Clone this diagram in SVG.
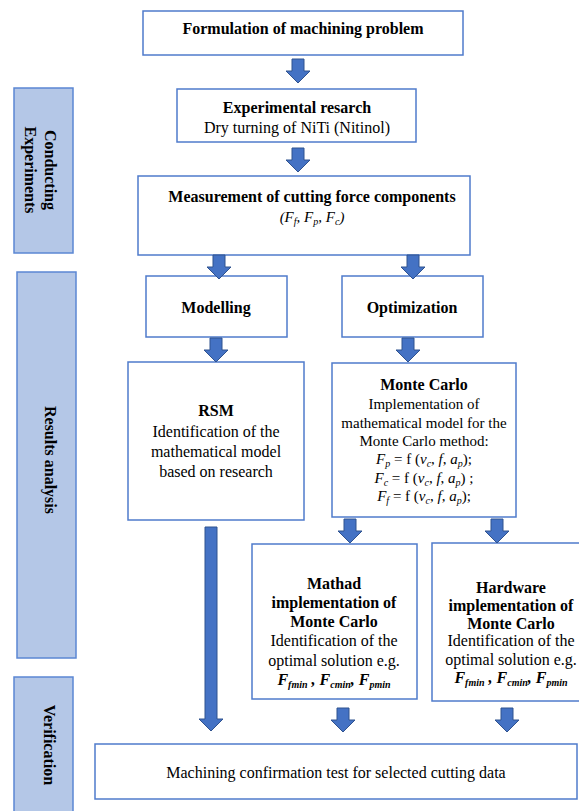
<svg xmlns="http://www.w3.org/2000/svg" width="579" height="811" viewBox="0 0 579 811">
<style>
.box{fill:#fff;stroke:#4F7BCB;stroke-width:1.5}
.side{fill:#B4C7E7;stroke:#5B87D3;stroke-width:1.5}
.arr{fill:#4472C4;stroke:#2F528F;stroke-width:1}
text{font-family:"Liberation Serif","Times New Roman",serif;font-size:16px;fill:#000;text-anchor:middle}
.b{font-weight:bold}
.i{font-style:italic}
.s{font-size:15px}
.sub{font-size:10px}
</style>
<defs>
<path id="a" d="M-6,0 H6 V12 H12 L0,24 L-12,12 H-6 Z"/>
</defs>
<g id="side-conducting">
<rect class="side" x="14" y="88" width="59" height="165"/>
<text class="b" transform="translate(45,170) rotate(90)">Conducting</text>
<text class="b" transform="translate(25,170) rotate(90)">Experiments</text>
</g>
<g id="side-results">
<rect class="side" x="17" y="272" width="59" height="386"/>
<text class="b" transform="translate(45,460) rotate(90)">Results  analysis</text>
</g>
<g id="side-verification">
<rect class="side" x="14" y="677" width="59" height="140"/>
<text class="b" transform="translate(44,745) rotate(90)">Verification</text>
</g>
<g id="n-formulation">
<rect class="box" x="143" y="11" width="320" height="44"/>
<text class="b" x="303" y="34">Formulation of machining problem</text>
</g>
<g id="n-experimental">
<rect class="box" x="177" y="89" width="239" height="53"/>
<text class="b" x="297" y="113">Experimental resarch</text>
<text x="297" y="133">Dry turning of NiTi (Nitinol)</text>
</g>
<g id="n-measurement">
<rect class="box" x="138" y="176" width="332" height="79"/>
<text class="b" x="312" y="202">Measurement of cutting force components</text>
<text class="i s" x="312" y="222">(F<tspan class="sub" dy="3">f</tspan><tspan dy="-3">, F</tspan><tspan class="sub" dy="3">p</tspan><tspan dy="-3">, F</tspan><tspan class="sub" dy="3">c</tspan><tspan dy="-3">)</tspan></text>
</g>
<g id="n-modelling">
<rect class="box" x="146" y="276" width="141" height="61"/>
<text class="b" x="216" y="313">Modelling</text>
</g>
<g id="n-optimization">
<rect class="box" x="342" y="276" width="141" height="61"/>
<text class="b" x="412" y="313">Optimization</text>
</g>
<g id="n-rsm">
<rect class="box" x="128" y="362" width="176" height="158"/>
<text class="b" x="216" y="416">RSM</text>
<text x="216" y="437">Identification of the</text>
<text x="216" y="457">mathematical model</text>
<text x="216" y="477">based on research</text>
</g>
<g id="n-montecarlo">
<rect class="box" x="332" y="363" width="184" height="154"/>
<text class="b" x="424" y="390">Monte Carlo</text>
<text class="s" x="424" y="409">Implementation of</text>
<text class="s" x="424" y="428">mathematical model for the</text>
<text class="s" x="424" y="446">Monte Carlo method:</text>
<text class="s" x="424" y="464"><tspan class="i">F</tspan><tspan class="i sub" dy="3">p</tspan><tspan dy="-3"> = f (</tspan><tspan class="i">v</tspan><tspan class="i sub" dy="3">c</tspan><tspan dy="-3">, </tspan><tspan class="i">f</tspan>, <tspan class="i">a</tspan><tspan class="i sub" dy="3">p</tspan><tspan dy="-3">);</tspan></text>
<text class="s" x="424" y="483"><tspan class="i">F</tspan><tspan class="i sub" dy="3">c</tspan><tspan dy="-3"> = f (</tspan><tspan class="i">v</tspan><tspan class="i sub" dy="3">c</tspan><tspan dy="-3">, </tspan><tspan class="i">f</tspan>, <tspan class="i">a</tspan><tspan class="i sub" dy="3">p</tspan><tspan dy="-3">) ;</tspan></text>
<text class="s" x="424" y="501"><tspan class="i">F</tspan><tspan class="i sub" dy="3">f</tspan><tspan dy="-3"> = f (</tspan><tspan class="i">v</tspan><tspan class="i sub" dy="3">c</tspan><tspan dy="-3">, </tspan><tspan class="i">f</tspan>, <tspan class="i">a</tspan><tspan class="i sub" dy="3">p</tspan><tspan dy="-3">);</tspan></text>
</g>
<g id="n-mathad">
<rect class="box" x="252" y="544" width="165" height="155"/>
<text class="b" x="334" y="589">Mathad</text>
<text class="b" x="334" y="608">implementation of</text>
<text class="b" x="334" y="627">Monte Carlo</text>
<text x="334" y="646">Identification of the</text>
<text x="334" y="666">optimal solution e.g.</text>
<text class="b i" x="334" y="685">F<tspan class="sub" dy="3">fmin</tspan><tspan dy="-3"> , F</tspan><tspan class="sub" dy="3">cmin</tspan><tspan dy="-3">, F</tspan><tspan class="sub" dy="3">pmin</tspan></text>
</g>
<g id="n-hardware">
<rect class="box" x="432" y="543" width="160" height="158"/>
<text class="b" x="511" y="593">Hardware</text>
<text class="b" x="511" y="611">implementation of</text>
<text class="b" x="511" y="629">Monte Carlo</text>
<text x="511" y="646">Identification of the</text>
<text x="511" y="665">optimal solution e.g.</text>
<text class="b i" x="511" y="683">F<tspan class="sub" dy="3">fmin</tspan><tspan dy="-3"> , F</tspan><tspan class="sub" dy="3">cmin</tspan><tspan dy="-3">, F</tspan><tspan class="sub" dy="3">pmin</tspan></text>
</g>
<g id="n-confirmation">
<rect class="box" x="95" y="744" width="482" height="55"/>
<text x="336" y="778">Machining confirmation test for selected cutting data</text>
</g>
<g id="connectors">
<use href="#a" class="arr" x="298" y="59"/>
<use href="#a" class="arr" x="298" y="148"/>
<use href="#a" class="arr" x="219" y="255"/>
<use href="#a" class="arr" x="413" y="255"/>
<use href="#a" class="arr" x="216" y="338"/>
<use href="#a" class="arr" x="408" y="338"/>
<use href="#a" class="arr" x="350" y="519"/>
<use href="#a" class="arr" x="497" y="519"/>
<path class="arr" d="M205,527 H217 V719 H223 L211,731 L199,719 H205 Z"/>
<use href="#a" class="arr" x="343" y="708"/>
<use href="#a" class="arr" x="507" y="708"/>
</g>
</svg>
